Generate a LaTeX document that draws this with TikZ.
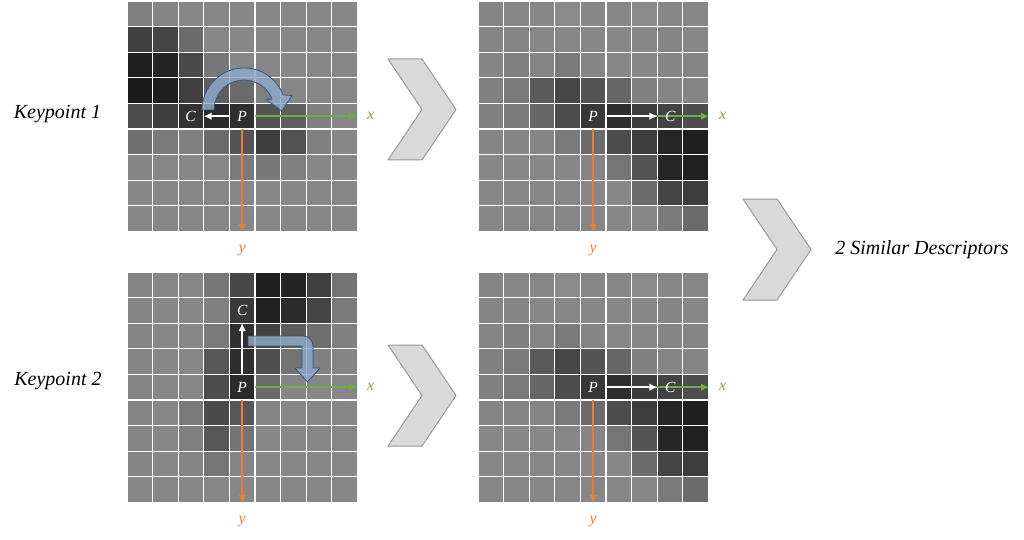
\documentclass[tikz,border=0pt]{standalone}
\usepackage{fontspec}
\setmainfont{Liberation Serif}
\usepackage{tikz}
\usetikzlibrary{positioning}
\usetikzlibrary{backgrounds}
\usetikzlibrary{arrows.meta}

\definecolor{axisgreen}{HTML}{70AD47}
\definecolor{axisorange}{HTML}{ED7D31}
\definecolor{turnblue}{HTML}{8EA9C9}
\definecolor{turnedge}{HTML}{3E5573}

\tikzset{
	cell/.style={rectangle, inner sep=0pt, minimum size=25.6pt, text=white, font=\fontsize{15.5}{15.5}\selectfont\itshape},
	axislabel/.style={inner sep=0pt, font=\fontsize{16}{16}\selectfont\itshape},
	caption/.style={inner sep=0pt, font=\fontsize{20}{22}\selectfont\itshape},
	gridline/.style={white, line width=1.2pt},
	xaxis/.style={axisgreen, line width=2pt},
	yaxis/.style={axisorange, line width=2.2pt},
	dirline/.style={white, line width=2.2pt},
	turn/.style={fill=turnblue, fill opacity=0.85, draw=turnedge, line width=0.8pt, line join=round},
	chevron/.style={fill=black!15, draw=black!40, line width=1pt, line join=round},
}

% 9x9 patch of grey pixels, #1/#2 top left corner, #3 rows of brightness (percent white)
\newcommand{\pixgrid}[3]{%
	\foreach \rowvals [count=\jj from 0] in {#3} {
		\foreach \gv [count=\ii from 0] in \rowvals
			\fill[white!\gv!black] ({#1+\ii*25.6},{#2+\jj*25.6}) rectangle ++(25.6,25.6);
	}
	\foreach \kk in {0,...,9} {
		\draw[gridline] ({#1+\kk*25.6},#2) -- ++(0,230.4);
		\draw[gridline] (#1,{#2+\kk*25.6}) -- ++(230.4,0);
	}
}

\begin{document}
\begin{tikzpicture}[x=1pt, y=-1pt]
	\useasboundingbox (0,0) rectangle (1024,540);
	
	\node (k1) [caption] at (57.5,114) {Keypoint 1};
	\node (k2) [caption] at (58,381) {Keypoint 2};
	\node (res) [caption] at (922,250) {2 Similar Descriptors};
	
	% keypoint 1, before and after rotation
	\node (P1) [cell] at (242.2,116.2) {P};
	\node (C1) [cell, left=25.6pt of P1] {C};
	\coordinate (xe1) at (357,116.2);
	\coordinate (ye1) at (242.2,232);
	\node (x1) [axislabel, text=axisgreen, right=10pt of xe1] {x};
	\node (y1) [axislabel, text=axisorange, below=13pt of ye1] {y};
	
	\node (P2) [cell] at (593.2,116.2) {P};
	\node (C2) [cell, right=51.2pt of P2] {C};
	\coordinate (xe2) at (709,116.2);
	\coordinate (ye2) at (593.2,232);
	\node (x2) [axislabel, text=axisgreen, right=10pt of xe2] {x};
	\node (y2) [axislabel, text=axisorange, below=13pt of ye2] {y};
	
	% keypoint 2, before and after rotation
	\node (P3) [cell] at (242.2,387.2) {P};
	\node (C3) [cell, above=51.2pt of P3] {C};
	\coordinate (xe3) at (357,387.2);
	\coordinate (ye3) at (242.2,503);
	\node (x3) [axislabel, text=axisgreen, right=10pt of xe3] {x};
	\node (y3) [axislabel, text=axisorange, below=13pt of ye3] {y};
	
	\node (P4) [cell] at (593.2,387.2) {P};
	\node (C4) [cell, right=51.2pt of P4] {C};
	\coordinate (xe4) at (709,387.2);
	\coordinate (ye4) at (593.2,503);
	\node (x4) [axislabel, text=axisgreen, right=10pt of xe4] {x};
	\node (y4) [axislabel, text=axisorange, below=13pt of ye4] {y};
	
	\foreach \cx/\cy in {388/59, 388/345, 743/199}
		\draw[chevron] (\cx,\cy) -- ++(34,0) -- ++(34,50.5) -- ++(-34,50.5) -- ++(-34,0) -- ++(34,-50.5) -- cycle;
	
	\begin{scope}[on background layer]
		\pixgrid{127}{1}{
			{50,52,53,53,53,53,53,53,53},
			{25,27,42,53,53,53,53,53,53},
			{12,14,29,47,53,53,53,53,53},
			{10,12,25,37,42,50,53,53,53},
			{30,24,20,17,18,33,37,50,53},
			{44,48,50,42,33,24,32,50,53},
			{52,53,53,53,48,47,50,53,53},
			{53,53,53,53,53,53,53,53,53},
			{53,53,53,53,53,53,53,53,53}}
		\pixgrid{478}{1}{
			{52,53,53,54,53,53,54,53,53},
			{52,52,53,53,53,53,53,52,53},
			{52,50,52,48,52,53,53,52,52},
			{50,48,35,28,33,40,50,52,52},
			{50,48,40,30,22,18,24,26,30},
			{52,52,52,48,42,30,24,15,12},
			{53,53,53,53,52,46,33,15,13},
			{53,53,53,53,53,53,42,27,24},
			{53,53,53,53,53,53,53,48,42}}
		\pixgrid{127}{272}{
			{52,53,53,47,28,12,14,25,45},
			{52,53,53,50,22,13,17,27,48},
			{52,53,53,48,19,26,36,43,50},
			{52,53,53,34,18,31,45,50,52},
			{52,53,53,30,17,42,52,53,53},
			{52,53,48,29,34,52,53,53,53},
			{52,53,50,34,45,53,53,53,53},
			{52,53,52,46,52,53,53,53,53},
			{53,53,53,53,53,53,53,53,53}}
		\pixgrid{478}{272}{
			{52,53,53,54,53,53,54,53,53},
			{52,52,53,53,53,53,53,52,53},
			{52,50,52,48,52,53,53,52,52},
			{50,48,35,28,33,40,50,52,52},
			{50,48,40,30,22,18,24,26,30},
			{52,52,52,48,42,30,24,15,12},
			{53,53,53,53,52,46,33,15,13},
			{53,53,53,53,53,53,42,27,24},
			{53,53,53,53,53,53,53,48,42}}
		
		\begin{scope}[>={Latex[length=8pt,width=7.5pt]}]
			\draw[xaxis, ->] (P1.east) -- (xe1);
			\draw[yaxis, ->] (P1.south) -- (ye1);
			\draw[dirline, ->] (P1.west) -- (C1.east);
			\draw[xaxis, ->] (P2.east) -- (xe2);
			\draw[yaxis, ->] (P2.south) -- (ye2);
			\draw[dirline, ->] (P2.east) -- (C2.west);
			\draw[xaxis, ->] (P3.east) -- (xe3);
			\draw[yaxis, ->] (P3.south) -- (ye3);
			\draw[dirline, ->] (P3.north) -- (C3.south);
			\draw[xaxis, ->] (P4.east) -- (xe4);
			\draw[yaxis, ->] (P4.south) -- (ye4);
			\draw[dirline, ->] (P4.east) -- (C4.west);
		\end{scope}
		
		% rotation hints
		\draw[turn] (202,110) arc[start angle=180, end angle=339, radius=42]
			-- (292,95.5) -- (282,111) -- (266,99.5) -- (272,99.25)
			arc[start angle=339, end angle=180, radius=30] -- cycle;
		\draw[turn] (248,336) -- (303,336) arc[start angle=-90, end angle=0, radius=10]
			-- (313,368) -- (320,368) -- (307.5,382) -- (295,368) -- (302,368)
			-- (302,346) -- (248,346) -- cycle;
	\end{scope}
\end{tikzpicture}
\end{document}
